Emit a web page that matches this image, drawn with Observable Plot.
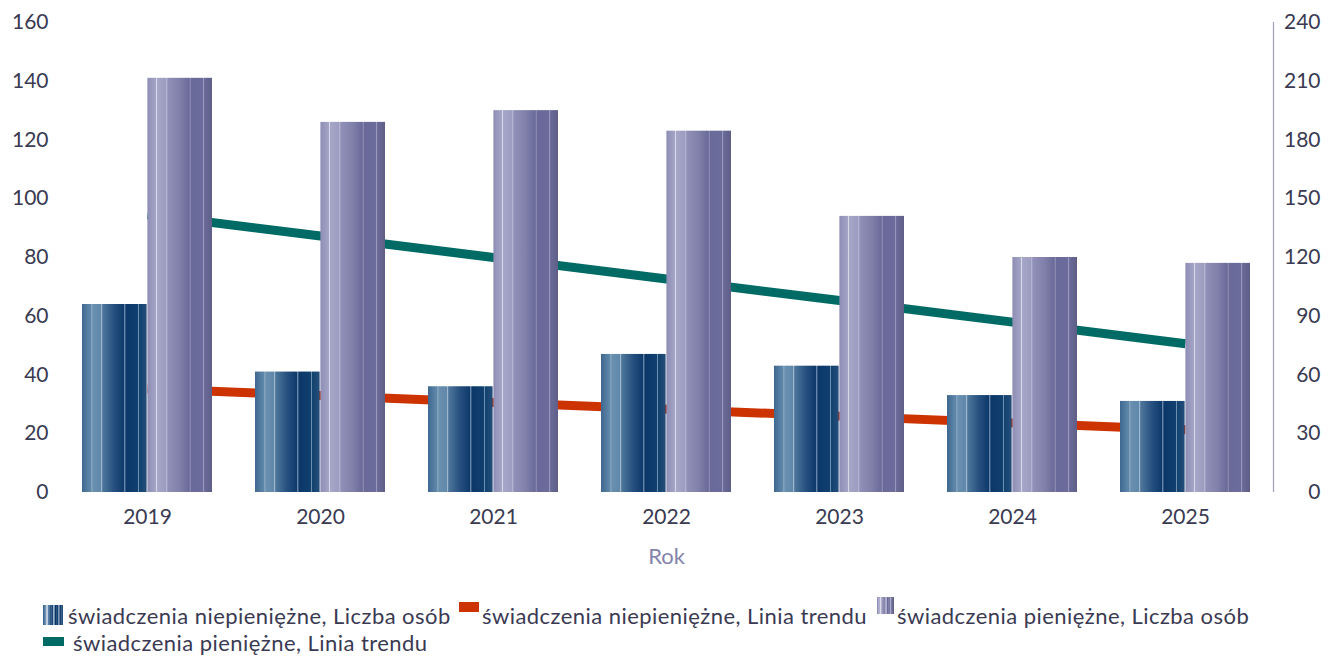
<!DOCTYPE html>
<html>
<head>
<meta charset="utf-8">
<script src="https://cdn.jsdelivr.net/npm/d3@7"></script>
<script src="https://cdn.jsdelivr.net/npm/@observablehq/plot@0.6"></script>
<style>
  html, body { margin: 0; padding: 0; background: #fff; }
  body { position: relative; width: 1330px; height: 656px; overflow: hidden; font-family: Lato, "Noto Sans", sans-serif; }
  #chart svg { display: block; }
  #legend { position: absolute; left: 0; top: 0; width: 1330px; height: 656px; pointer-events: none; font-size: 22px; color: #3a3a52; line-height: 22px; letter-spacing: 0.45px; }
  .lt { position: absolute; white-space: nowrap; }
  .sw { position: absolute; display: block; }
</style>
</head>
<body>
<div id="chart"></div>
<div id="legend"></div>
<script>
const years = ["2019", "2020", "2021", "2022", "2023", "2024", "2025"];
const niepieniezneOsoby = [64, 41, 36, 47, 43, 33, 31];
const pieniezneOsoby = [141, 126, 130, 123, 94, 80, 78];
// trend lines read against the right-hand axis (0–240)
const niepieniezneTrend = [53, 49.5, 46, 42.5, 39, 35.5, 32];
const pieniezneTrend = [142, 131, 120, 109, 98, 87, 76];
const leftTicks = [0, 20, 40, 60, 80, 100, 120, 140, 160];
const rightTicks = [0, 30, 60, 90, 120, 150, 180, 210, 240];
const seriesNames = [
  "świadczenia niepieniężne, Liczba osób",
  "świadczenia niepieniężne, Linia trendu",
  "świadczenia pieniężne, Liczba osób",
  "świadczenia pieniężne, Linia trendu"
];
const xTitle = "Rok";

const W = 1330, H = 585;
const mL = 59, mR = 57, mT = 22, mB = 93;
const pIn = 0.246, pOut = 0.123;
const step = (W - mL - mR) / (years.length - pIn + 2 * pOut);
const bw = step * (1 - pIn);
const ratio = 240 / 160;

const barsN = years.map((y, i) => ({year: y, value: niepieniezneOsoby[i]}));
const barsP = years.map((y, i) => ({year: y, value: pieniezneOsoby[i]}));
const trendN = years.map((y, i) => ({year: y, value: niepieniezneTrend[i] / ratio}));
const trendP = years.map((y, i) => ({year: y, value: pieniezneTrend[i] / ratio}));

const textColor = "#3a3a52";

const svg = Plot.plot({
  width: W, height: H,
  marginLeft: mL, marginRight: mR, marginTop: mT, marginBottom: mB,
  style: {fontFamily: "Lato, 'Noto Sans', sans-serif", fontSize: "21px", color: textColor, background: "#fff"},
  x: {type: "band", domain: years, paddingInner: pIn, paddingOuter: pOut, label: null},
  y: {domain: [0, 160], label: null},
  marks: [
    Plot.line(trendN, {x: "year", y: "value", stroke: "#cc3300", strokeWidth: 9, strokeLinecap: "butt"}),
    Plot.line(trendP, {x: "year", y: "value", stroke: "#006b64", strokeWidth: 9, strokeLinecap: "butt"}),
    Plot.barY(barsN, {x: "year", y: "value", fill: "url(#gDark)", insetRight: bw / 2}),
    Plot.barY(barsP, {x: "year", y: "value", fill: "url(#gLight)", insetLeft: bw / 2}),
    Plot.axisY({ticks: leftTicks, tickSize: 0, tickPadding: 11, label: null, fontSize: 21, fill: textColor}),
    Plot.axisY(rightTicks.map(v => v / ratio), {anchor: "right", tickSize: 0, tickPadding: 47, textAnchor: "end", tickFormat: d => Math.round(d * ratio), label: null, fontSize: 21, fill: textColor}),
    Plot.axisX({tickSize: 0, tickPadding: 17, label: null, fontSize: 21, fill: textColor}),
    Plot.text([xTitle], {frameAnchor: "bottom", dy: 71, fontSize: 22, fill: "#8383ab"})
  ]
});

// gradients
const defs = d3.select(svg).insert("defs", ":first-child");
function grad(id, stops) {
  const g = defs.append("linearGradient").attr("id", id).attr("x1", 0).attr("x2", 1).attr("y1", 0).attr("y2", 0);
  stops.forEach(([o, c]) => g.append("stop").attr("offset", o).attr("stop-color", c));
}
grad("gDark", [
  [0, "#3f6890"], [0.12, "#5d85a8"], [0.145, "#5d85a8"], [0.15, "#b4c8d8"], [0.165, "#6a90b0"],
  [0.29, "#6088aa"], [0.3, "#a8bed2"], [0.32, "#4f779c"], [0.5, "#254f7e"],
  [0.65, "#0d3a6b"], [0.66, "#7f9cbc"], [0.68, "#0b3768"], [0.86, "#10406f"], [0.87, "#8aa5c2"], [0.89, "#12426f"], [1, "#264e7a"]
]);
grad("gLight", [
  [0, "#8e8eb6"], [0.13, "#a4a4c6"], [0.14, "#dcdcec"], [0.155, "#a6a6c8"],
  [0.29, "#9c9cc0"], [0.3, "#c4c4dc"], [0.315, "#9090b8"], [0.5, "#8080aa"],
  [0.65, "#6a6a9a"], [0.66, "#a4a4c4"], [0.675, "#6a6a9a"], [0.86, "#6c6c9c"], [0.87, "#a0a0c2"], [0.885, "#6a6a98"], [1, "#5e5e88"]
]);

// right axis line at the frame's right edge
d3.select(svg).append("line")
  .attr("x1", W - mR + 0.5).attr("x2", W - mR + 0.5)
  .attr("y1", mT).attr("y2", H - mB)
  .attr("stroke", "#a0a0b8").attr("stroke-width", 1.2);

document.getElementById("chart").appendChild(svg);

// legend (placed as in the reference)
const legend = d3.select("#legend");
const items = [
  {sx: 43, sy: 605, w: 20, h: 20, fill: "dark", tx: 68, ty: 604.5},
  {sx: 459, sy: 602, w: 20, h: 10, fill: "#cc3300", tx: 482, ty: 604.5},
  {sx: 877, sy: 597, w: 17, h: 17, fill: "light", tx: 897, ty: 604.5},
  {sx: 43, sy: 637, w: 21, h: 9, fill: "#006b64", tx: 73, ty: 631.5}
];
const stripeDark = ["#3f6890","#6f94b6","#c0d0e0","#5a80a8","#2c5684","#1a4675","#9fb4cc","#0b3768","#123f6e","#7c98b8","#123f6e","#264e7a"];
const stripeLight = ["#8e8eb6","#a6a6c8","#dcdcec","#9c9cc0","#8a8ab2","#8080aa","#b8b8d4","#6a6a9a","#6c6c9c","#a8a8c8","#6a6a98","#5e5e88"];
items.forEach((it, i) => {
  const sv = legend.append("svg").attr("class", "sw").attr("width", it.w).attr("height", it.h)
    .style("left", it.sx + "px").style("top", it.sy + "px");
  if (it.fill === "dark" || it.fill === "light") {
    const cols = it.fill === "dark" ? stripeDark : stripeLight;
    const sw = it.w / cols.length;
    cols.forEach((c, k) => sv.append("rect").attr("x", k * sw).attr("width", sw + 0.3).attr("height", it.h).attr("fill", c));
  } else {
    sv.append("rect").attr("width", it.w).attr("height", it.h).attr("fill", it.fill);
  }
  legend.append("span").attr("class", "lt").style("left", it.tx + "px").style("top", it.ty + "px").text(seriesNames[i]);
});
</script>
</body>
</html>
